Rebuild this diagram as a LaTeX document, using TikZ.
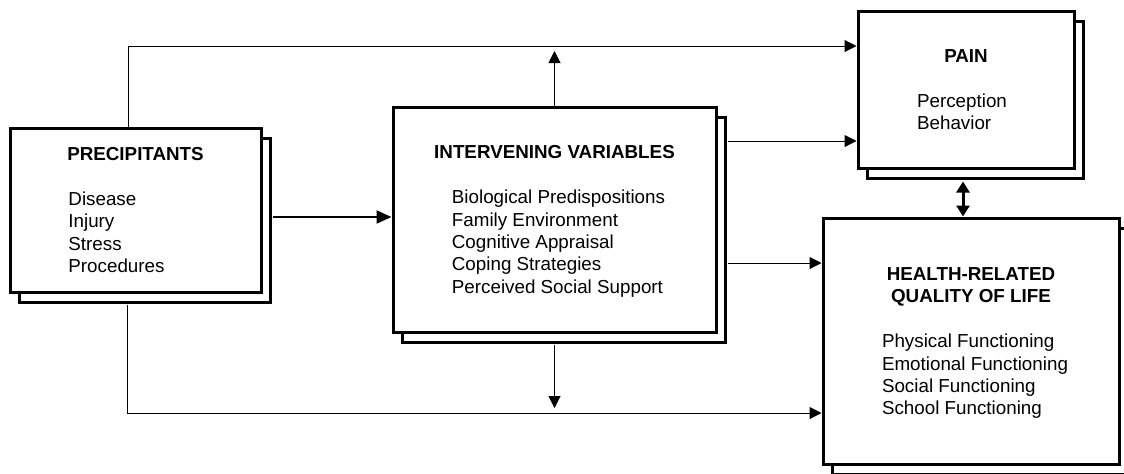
\documentclass[tikz,border=0pt]{standalone}
\usepackage{fontspec}
\setmainfont{Liberation Sans}
\usetikzlibrary{arrows.meta,positioning,shadows,calc}
\newcommand{\boxhead}[1]{\rule{0pt}{10pt}\textbf{#1}}

\begin{document}
\begin{tikzpicture}[x=0.5pt,y=-0.5pt,
  font=\fontsize{9.4}{11.2}\selectfont,
  box/.style={draw,line width=1.5pt,fill=white,align=center,inner sep=0pt,
    copy shadow={shadow xshift=4.75pt,shadow yshift=-5.25pt,line width=1.5pt}},
  arr/.style={-{Triangle[length=6pt,width=6pt]},line width=0.5pt},
  bigarr/.style={-{Triangle[length=7.5pt,width=6.5pt]},line width=1pt},
  dblarr/.style={{Triangle[length=5.5pt,width=6.5pt]}-{Triangle[length=5.5pt,width=6.5pt]},line width=1.5pt}
]
\useasboundingbox (0,0) rectangle (1124,473);
\node[box,minimum width=125.5pt,minimum height=82pt] (prec) at (135.5,210)
  {\boxhead{PRECIPITANTS}\\[\baselineskip]
   \begin{tabular}[t]{@{}l@{}}Disease\\Injury\\Stress\\Procedures\end{tabular}\hspace*{19pt}};
\node[box,minimum width=161.5pt,minimum height=112.5pt] (inter) at (554.5,219.5)
  {\boxhead{INTERVENING VARIABLES}\\[\baselineskip]
   \hspace*{4pt}\begin{tabular}[t]{@{}l@{}}Biological Predispositions\\Family Environment\\
   Cognitive Appraisal\\Coping Strategies\\Perceived Social Support\end{tabular}};
\node[box,minimum width=108pt,minimum height=78.5pt] (pain) at (966,89.5)
  {\boxhead{PAIN}\\[\baselineskip]
   \begin{tabular}[t]{@{}l@{}}Perception\\Behavior\end{tabular}\hspace*{4pt}};
\node[box,minimum width=148pt,minimum height=123pt] (hrql) at (971,341)
  {\boxhead{HEALTH-RELATED}\\\textbf{QUALITY OF LIFE}\\[\baselineskip]
   \hspace*{4pt}\begin{tabular}[t]{@{}l@{}}Physical Functioning\\Emotional Functioning\\
   Social Functioning\\School Functioning\end{tabular}};
% turning points of the two long lines
\coordinate (topturn) at (128,46);
\coordinate (botturn) at (127,413);
\coordinate (p1) at ([shift={(10,7)}]prec.east);
\coordinate (i1) at ([shift={(10,-78.5)}]inter.east);
\coordinate (i2) at ([shift={(10,43.5)}]inter.east);
\coordinate (d1) at ([shift={(-3,12)}]pain.south);
\draw[bigarr] (p1) -- (p1 -| inter.west);
\draw[arr] ([xshift=-3.75pt]prec.north) |- (pain.west |- topturn);
\draw[arr] ([shift={(-8.5,11)}]prec.south) |- (hrql.west |- botturn);
\draw[arr,shorten >=2.5pt] (inter.north) -- (inter.north |- topturn);
\draw[arr,shorten >=2.5pt] ([yshift=-5.5pt]inter.south) -- (inter.south |- botturn);
\draw[arr] (i1) -- (i1 -| pain.west);
\draw[arr] (i2) -- (i2 -| hrql.west);
\draw[dblarr] (d1) -- (d1 |- hrql.north);
\end{tikzpicture}
\end{document}
